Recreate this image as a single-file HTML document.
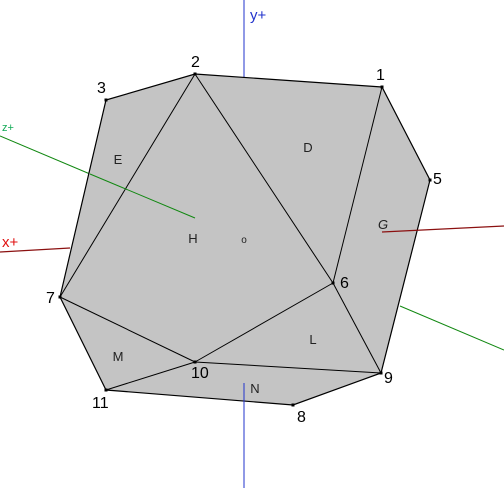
<!DOCTYPE html>
<html><head><meta charset="utf-8"><style>
html,body{margin:0;padding:0;background:#fff;}
svg{display:block;font-family:"Liberation Sans","DejaVu Sans",sans-serif;}
</style></head><body>
<svg width="504" height="488" viewBox="0 0 504 488">
<g id="axes-back"></g>
<g id="poly"></g>
<g id="axes-front"></g>
<g id="labels"></g>
</svg>
<script>
const vertexIds = ['1','2','3','5','6','7','8','9','10','11'];
const vertexX = [382,195,106,430,333,60,293,381,195,106];
const vertexY = [87,74,100,180,283,297,405,373,362,390];
const outline = ['2','1','5','9','8','11','7','3'];
const edges = [['2','7'],['2','6'],['1','6'],['6','9'],['6','10'],['7','10'],['10','9'],['10','11']];
const faceNames = ['D','E','G','H','L','M','N','o'];
const faceX = [308,118,383,193,313,118,255,244];
const faceY = [152,164,229,243,344,361,393,243];
const NS='http://www.w3.org/2000/svg';
function mk(t,a,p){const e=document.createElementNS(NS,t);for(const k in a)e.setAttribute(k,a[k]);p.appendChild(e);return e;}
function V(id){const i=vertexIds.indexOf(id);return [vertexX[i],vertexY[i]];}
const back=document.getElementById('axes-back'),poly=document.getElementById('poly'),front=document.getElementById('axes-front'),lab=document.getElementById('labels');
let l;
l=mk('line',{x1:244,y1:0,x2:244,y2:80,stroke:'#2233cc','stroke-width':1},back);


l=mk('line',{x1:0,y1:252,x2:70,y2:248,stroke:'#8b1010','stroke-width':1.2},back);


l=mk('line',{x1:0,y1:136,x2:90,y2:174,stroke:'#118811','stroke-width':1},back);


l=mk('line',{x1:400,y1:306,x2:504,y2:350,stroke:'#118811','stroke-width':1},back);


const pts=outline.map(id=>V(id).join(',')).join(' ');
let p=mk('polygon',{points:pts,fill:'#c4c4c4',stroke:'#000','stroke-width':1.2},poly);


edges.forEach(e=>{const a=V(e[0]),b=V(e[1]);
 const ln=mk('line',{x1:a[0],y1:a[1],x2:b[0],y2:b[1],stroke:'#000','stroke-width':1},poly);
 
 });
l=mk('line',{x1:90,y1:174,x2:195,y2:218,stroke:'#118811','stroke-width':1},front);


l=mk('line',{x1:382,y1:232,x2:504,y2:226,stroke:'#8b1010','stroke-width':1.2},front);


l=mk('line',{x1:244,y1:383,x2:244,y2:488,stroke:'#2233cc','stroke-width':1},front);


const off={'1':[-6,-7],'2':[-4,-7],'3':[-9,-7],'5':[3,4],'6':[7,5],'7':[-14,6],'8':[4,17],'9':[3,10],'10':[-4,16],'11':[-14,18]};
vertexIds.forEach(id=>{const v=V(id);
 const d=mk('rect',{x:v[0]-1.5,y:v[1]-1.5,width:3,height:3,fill:'#000'},lab);
 
 
 const t=mk('text',{x:v[0]+off[id][0],y:v[1]+off[id][1],'font-size':16,fill:'#000'},lab);
 t.textContent=id;
 
 });
faceNames.forEach((f,i)=>{
 const t=mk('text',{x:faceX[i],y:faceY[i],'font-size':f==='o'?10:13,fill:'#222','text-anchor':'middle','font-style':f==='G'?'italic':'normal'},lab);
 t.textContent=f;
 
 });
let t;
t=mk('text',{x:250,y:20,'font-size':15,fill:'#2233cc'},lab);t.textContent='y+';


t=mk('text',{x:2,y:247,'font-size':15,fill:'#e01010'},lab);t.textContent='x+';


t=mk('text',{x:2,y:131,'font-size':11,fill:'#11aa55'},lab);t.textContent='z+';


</script>
</body></html>
